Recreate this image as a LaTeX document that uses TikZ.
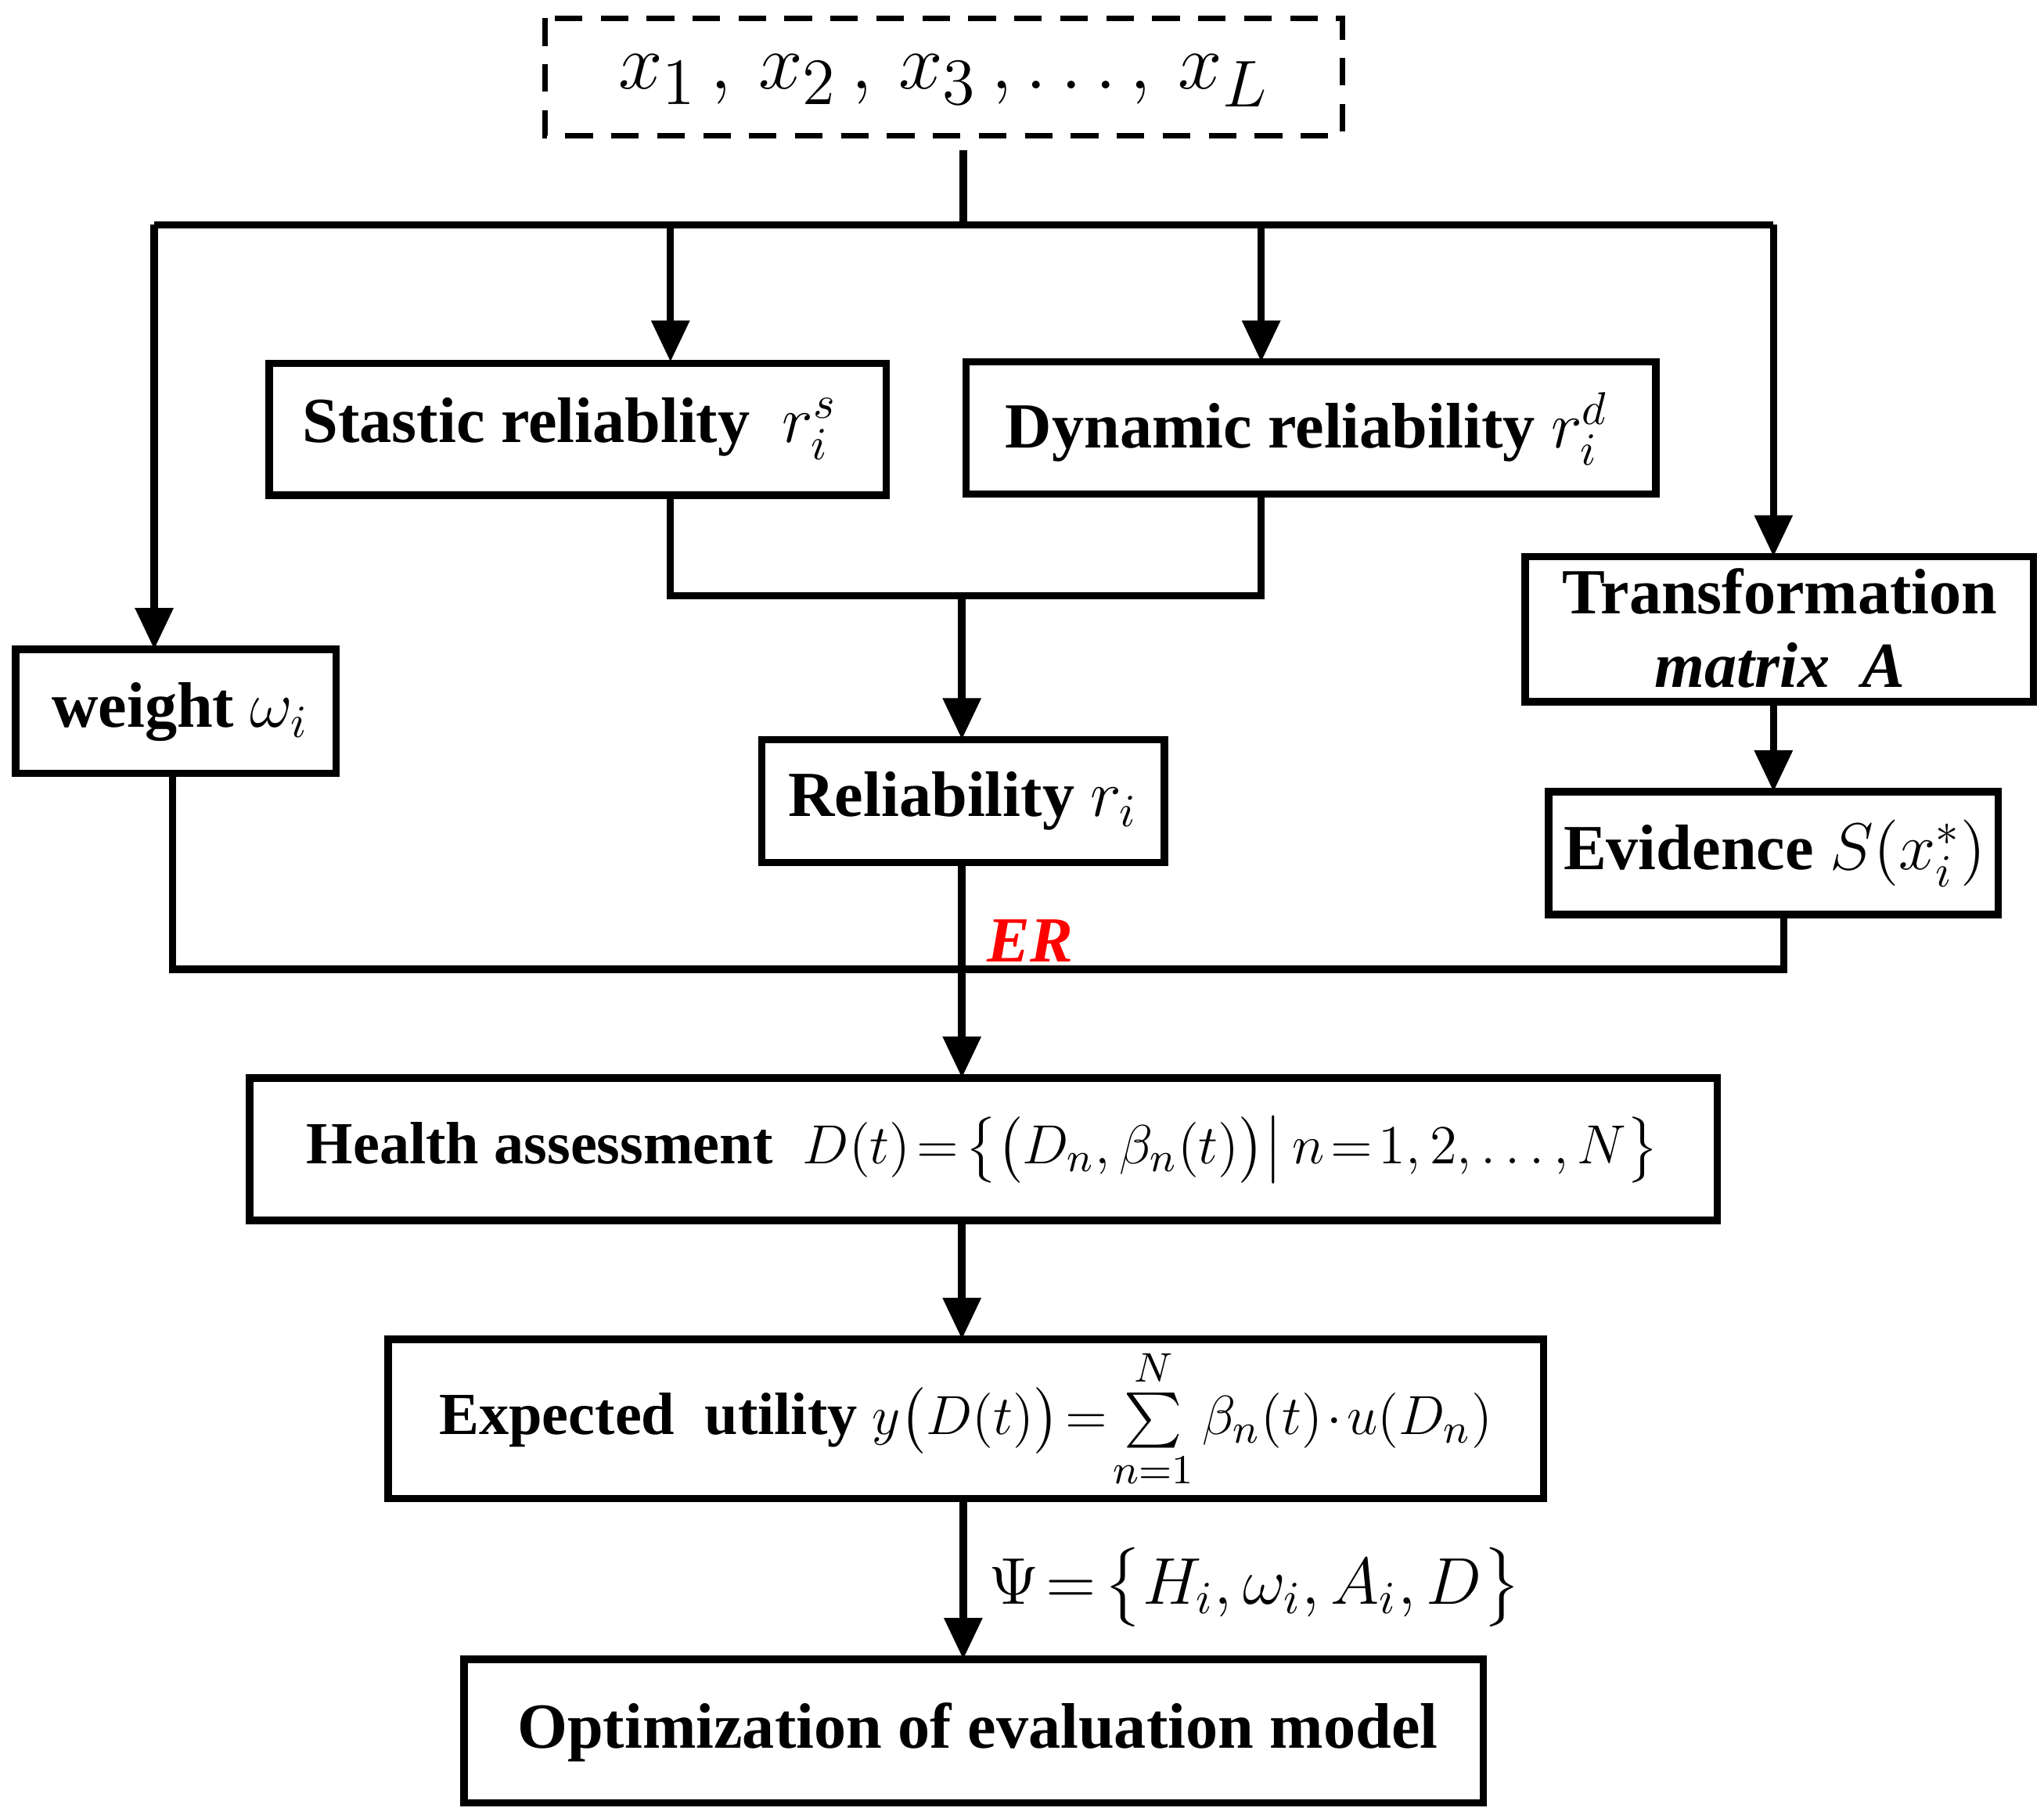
\documentclass[tikz,border=0pt]{standalone}
\usepackage{amsmath}
\usepackage{fontspec}
\setmainfont{Liberation Serif}
\usetikzlibrary{arrows.meta}
\thickmuskip=2mu plus 1mu
\medmuskip=1.5mu plus 1mu
\begin{document}
\begin{tikzpicture}[x=0.01cm,y=-0.01cm,
 box/.style={draw,line width=1.6pt,inner sep=0},
 ln/.style={line width=1.6pt},
 ar/.style={line width=1.6pt,-{Triangle[length=9pt,width=8pt]}},
 txt/.style={font=\fontsize{14}{16}\selectfont\bfseries}]
\useasboundingbox (0,0) rectangle (1564,1389);
\draw[box,dash pattern=on 6pt off 4pt,line width=1.2pt] (417,14) rectangle (1027,104);
\node[font=\fontsize{19}{22}\selectfont] (top) at (722,62) {$x_1\,,\,x_2\,,\,x_3\,,\ldots,\,x_L$};
\coordinate (t0) at (737,115); \coordinate (t1) at (737,172);
\coordinate (hl) at (118,172); \coordinate (hr) at (1357,172);
\draw[ln] (t0)--(t1); \draw[ln] (hl)--(hr);
\draw[box] (206,278) rectangle (678,379);
\node[txt] (st) at (436,328) {Stastic reliablity\ \ $r_i^{s}$};
\draw[box] (739,277) rectangle (1267,378);
\node[txt] (dy) at (1000,328) {Dynamic reliability $r_i^{d}$};
\draw[box] (12,497) rectangle (257,592);
\node[txt] (w) at (138,545) {weight $\omega_i$};
\draw[box] (583,566) rectangle (891,660);
\node[txt] (rel) at (737,613) {Reliability $r_i$};
\draw[box] (1167,426) rectangle (1556,537);
\node[txt,align=center] (tr) at (1362,481) {Transformation\\ \textit{matrix\ \ A}};
\draw[box] (1185,606) rectangle (1529,700);
\node[txt] (ev) at (1358,653) {Evidence $S(x_i^{*})$};
\draw[box] (191,825) rectangle (1314,934);
\node[txt,font=\fontsize{13}{15}\selectfont\bfseries] (ha) at (752,880) {Health assessment\ \ $D(t)=\bigl\{\bigl(D_n,\beta_n(t)\bigr)\big|\,n=1,2,\ldots,N\bigr\}$};
\draw[box] (297,1025) rectangle (1181,1147);
\node[txt,font=\fontsize{13}{15}\selectfont\bfseries] (eu) at (739,1086) {Expected\ \ utility $y\bigl(D(t)\bigr)=\sum\limits_{n=1}^{N}\beta_n(t)\cdot u(D_n)$};
\draw[box] (355,1270) rectangle (1135,1380);
\node[txt] (op) at (748,1326) {Optimization of evaluation model};
\draw[ar] (hl)--(118,497);
\draw[ar] (513,172)--(513,277);
\draw[ar] (965,172)--(965,277);
\draw[ar] (hr)--(1357,426);
\draw[ln] (513,379)--(513,456)--(965,456)--(965,378);
\draw[ar] (736,456)--(736,566);
\draw[ar] (1357,537)--(1357,606);
\draw[ln] (132,592)--(132,742)--(1365,742)--(1365,700);
\draw[ar] (736,660)--(736,825);
\node[text=red,font=\fontsize{14}{16}\selectfont\bfseries\itshape] (er) at (788,720) {ER};
\draw[ar] (736,934)--(736,1025);
\draw[ar] (737,1147)--(737,1270);
\node[font=\fontsize{14}{16}\selectfont] (psi) at (960,1215) {$\Psi=\bigl\{H_i,\omega_i,A_i,D\bigr\}$};
\end{tikzpicture}
\end{document}
